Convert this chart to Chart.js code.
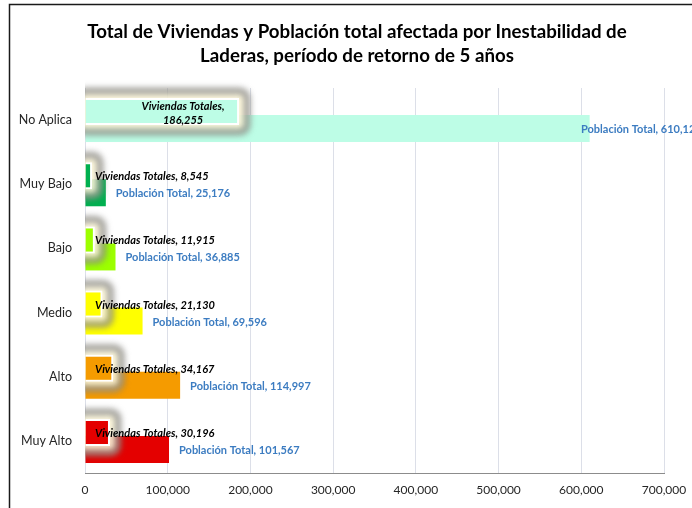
<!DOCTYPE html>
<html>
<head>
<meta charset="utf-8">
<script src="https://cdn.jsdelivr.net/npm/chart.js@4"></script>
<style>
  html, body { margin: 0; padding: 0; background: #fff; }
  #wrap { width: 692px; height: 508px; }
</style>
</head>
<body>
<div id="wrap"><canvas id="grafico" width="692" height="508"></canvas></div>
<script>
// Datos por nivel de amenaza
const categorias = ['No Aplica', 'Muy Bajo', 'Bajo', 'Medio', 'Alto', 'Muy Alto'];
const viviendas = [186255, 8545, 11915, 21130, 34167, 30196];
const poblacion = [610120, 25176, 36885, 69596, 114997, 101567];
const colores = ['#bdfde6', '#00b050', '#9cff00', '#ffff00', '#f59b00', '#e40000'];
const titulo = ['Total de Viviendas y Población total afectada por Inestabilidad de',
                'Laderas, período de retorno de 5 años'];
const ejeMax = 700000;
const ejePaso = 100000;

const fuente = 'Lato, "Liberation Sans", sans-serif';
const fmt = v => v.toLocaleString('en-US');

// Marco del gráfico y título
const marco = {
    id: 'marco',
    beforeDraw(chart) {
        const ctx = chart.ctx;
        ctx.save();
        ctx.fillStyle = '#fff';
        ctx.fillRect(0, 0, chart.width, chart.height);
        ctx.strokeStyle = '#1a1a1a';
        ctx.lineWidth = 1.5;
        ctx.beginPath();
        ctx.moveTo(9.5, chart.height);
        ctx.lineTo(9.5, 4.5);
        ctx.lineTo(chart.width, 4.5);
        ctx.stroke();
        ctx.restore();
    },
    afterDraw(chart) {
        const ctx = chart.ctx;
        ctx.save();
        ctx.fillStyle = '#000';
        ctx.font = 'bold 18.7px ' + fuente;
        ctx.textAlign = 'center';
        ctx.textBaseline = 'middle';
        ctx.fillText(titulo[0], 357, 32);
        ctx.fillText(titulo[1], 357, 56);
        ctx.restore();
    }
};

// Resplandor alrededor de las barras de viviendas
const resplandor = {
    id: 'resplandor',
    beforeDatasetDraw(chart, args) {
        if (args.index !== 0) return;
        const ctx = chart.ctx;
        const area = chart.chartArea;
        ctx.save();
        ctx.beginPath();
        ctx.rect(area.left, area.top - 10, area.right - area.left, area.bottom - area.top + 10);
        ctx.clip();
        args.meta.data.forEach(bar => {
            const x0 = bar.base - 8, x1 = bar.x + 8;
            const y0 = bar.y - bar.height / 2 - 7, y1 = bar.y + bar.height / 2 + 7;
            ctx.filter = 'blur(3px)';
            ctx.beginPath();
            ctx.roundRect(x0, y0, x1 - x0, y1 - y0, 7);
            ctx.fillStyle = 'rgba(255,250,220,0.9)';
            ctx.fill();
            ctx.lineWidth = 6;
            ctx.strokeStyle = 'rgba(105,105,105,0.7)';
            ctx.stroke();
        });
        ctx.restore();
    }
};

// Etiquetas de datos
const etiquetas = {
    id: 'etiquetas',
    afterDatasetsDraw(chart) {
        const ctx = chart.ctx;
        const area = chart.chartArea;
        const mP = chart.getDatasetMeta(1);
        const mV = chart.getDatasetMeta(0);
        ctx.save();
        ctx.textBaseline = 'middle';

        ctx.font = 'bold 11px ' + fuente;
        ctx.fillStyle = '#3c7cc1';
        ctx.textAlign = 'left';
        mP.data.forEach((bar, i) => {
            const x = Math.min(bar.x + 10, area.right - 83);
            ctx.fillText('Población Total, ' + fmt(poblacion[i]), x, bar.y + 1);
        });

        ctx.font = 'italic bold 11px ' + fuente;
        ctx.fillStyle = '#000';
        mV.data.forEach((bar, i) => {
            if (bar.x - bar.base > 140) {
                ctx.textAlign = 'center';
                ctx.fillText('Viviendas Totales,', bar.x - 56, bar.y - 5);
                ctx.fillText(fmt(viviendas[i]), bar.x - 56, bar.y + 9);
            } else {
                ctx.textAlign = 'left';
                ctx.fillText('Viviendas Totales, ' + fmt(viviendas[i]), area.left + 10, bar.y + 1);
            }
        });
        ctx.restore();
    }
};

new Chart(document.getElementById('grafico'), {
    type: 'bar',
    data: {
        labels: categorias,
        datasets: [
            {
                label: 'Viviendas Totales',
                data: viviendas,
                backgroundColor: colores,
                borderColor: '#ffffff',
                borderWidth: 2,
                categoryPercentage: 0.53,
                barPercentage: 1.59
            },
            {
                label: 'Población Total',
                data: poblacion,
                backgroundColor: colores,
                borderWidth: 0,
                categoryPercentage: 0.53,
                barPercentage: 1.59
            }
        ]
    },
    options: {
        indexAxis: 'y',
        responsive: false,
        animation: false,
        layout: { padding: { top: 88, right: 28, left: 0, bottom: 0 } },
        plugins: {
            legend: { display: false },
            title: { display: false },
            tooltip: { enabled: false }
        },
        scales: {
            x: {
                min: 0,
                max: ejeMax,
                ticks: {
                    stepSize: ejePaso,
                    color: '#262626',
                    font: { family: fuente, size: 12 },
                    padding: 10,
                    callback: v => fmt(v)
                },
                grid: { color: '#dcdfe8', drawTicks: false },
                border: { color: '#8c8c8c', width: 1 },
                afterFit: s => { s.height = 35; s.paddingRight = 0; s.paddingLeft = 0; }
            },
            y: {
                ticks: {
                    color: '#262626',
                    font: { family: fuente, size: 12.5 },
                    padding: 13
                },
                grid: { display: false, drawTicks: false },
                border: { display: false },
                afterFit: s => { s.width = 85; }
            }
        }
    },
    plugins: [marco, resplandor, etiquetas]
});
</script>
</body>
</html>
